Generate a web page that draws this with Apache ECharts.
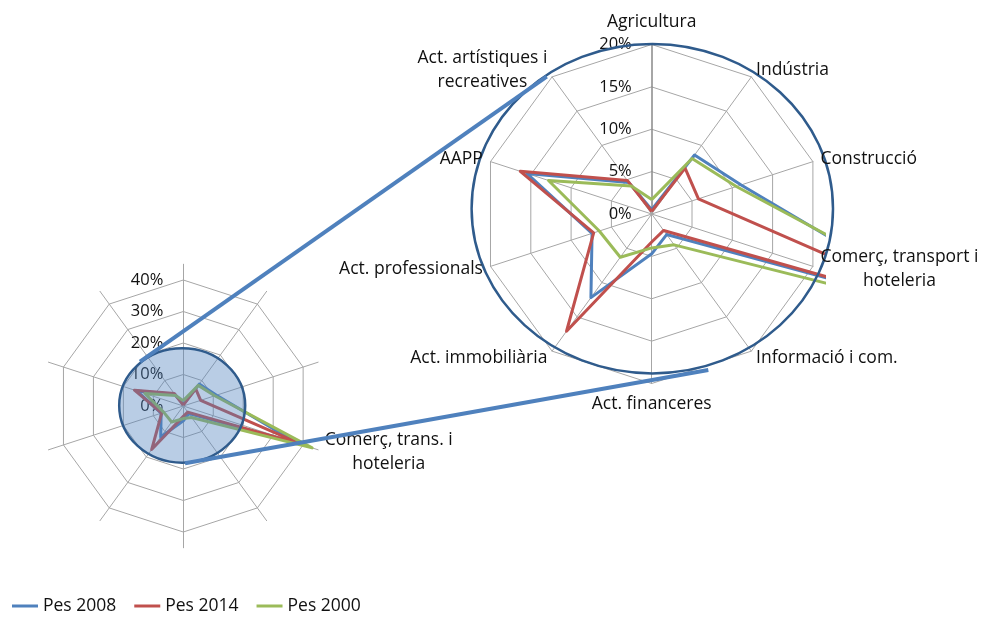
<!DOCTYPE html>
<html>
<head>
<meta charset="utf-8">
<script src="https://cdn.jsdelivr.net/npm/echarts@6/dist/echarts.min.js"></script>
<style>
  html, body { margin: 0; padding: 0; background: #fff; }
  #chart { width: 985px; height: 617px; }
</style>
</head>
<body>
<div id="chart"></div>
<script>
// sectors, clockwise from the top
const sectors = [
  'Agricultura', 'Indústria', 'Construcció', 'Comerç, transport i hoteleria',
  'Informació i com.', 'Act. financeres', 'Act. immobiliària',
  'Act. professionals', 'AAPP', 'Act. artístiques i recreatives'
];
// label used on the small overview chart
const smallLabel = 'Comerç, trans. i hoteleria';

// shares in %
const pes2008 = [0.5, 8.6, 11.1, 38, 3.0, 4.7, 12.2, 7.4, 15.5, 4.6];
const pes2014 = [0.3, 6.7, 5.8, 39.5, 2.4, 3.3, 17.1, 7.2, 16.3, 4.9];
const pes2000 = [1.7, 8.1, 10.5, 43, 4.5, 4.0, 6.3, 6.5, 12.8, 4.1];

const seriesNames = ['Pes 2008', 'Pes 2014', 'Pes 2000'];
const seriesColors = ['#4F81BD', '#C0504D', '#9BBB59'];

// echarts lays indicators out counter-clockwise, the original runs clockwise
const order = [0, 9, 8, 7, 6, 5, 4, 3, 2, 1];
const cw = arr => order.map(i => arr[i]);

const FONT = 'Open Sans';
const FS = 17.5;
const GRID = '#a6a6a6';

// two-line labels with centred lines
function twoLines(s) {
  if (s === 'Comerç, transport i hoteleria') return '{c|Comerç, transport i}\n{c|hoteleria}';
  if (s === 'Act. artístiques i recreatives') return '{c|Act. artístiques i}\n{c|recreatives}';
  if (s === 'Comerç, trans. i hoteleria') return '{c|Comerç, trans. i}\n{c|hoteleria}';
  if (s === 'Agricultura') return '{top|Agricultura}';
  if (s === 'Act. financeres') return '{bot|Act. financeres}';
  return '{n|' + s + '}';
}
const nameRich = {
  c: { align: 'center', fontSize: FS, lineHeight: 24, fontFamily: FONT, color: '#111' },
  n: { fontSize: FS, fontFamily: FONT, color: '#111' },
  top: { fontSize: FS, fontFamily: FONT, color: '#111', padding: [0, 0, 5, 0] },
  bot: { fontSize: FS, fontFamily: FONT, color: '#111', padding: [4, 0, 0, 0] }
};

function pctLabel() {
  return { show: true, color: '#111', fontSize: 16.5, fontFamily: FONT, margin: 20,
    formatter: '{value}%', showMinLabel: true, showMaxLabel: true };
}

function makeData() {
  return [pes2008, pes2014, pes2000].map((v, i) => ({
    name: seriesNames[i],
    value: cw(v),
    symbol: 'none',
    lineStyle: { color: seriesColors[i], width: 3 },
    itemStyle: { color: seriesColors[i] }
  }));
}

const names = cw(sectors);

const chart = echarts.init(document.getElementById('chart'));

chart.setOption({
  animation: false,
  textStyle: { fontFamily: FONT },
  legend: {
    data: seriesNames,
    left: 12,
    top: 597,
    padding: 0,
    icon: 'rect',
    itemWidth: 26,
    itemHeight: 3,
    itemGap: 18,
    textStyle: { fontSize: FS, color: '#111', fontFamily: FONT }
  },
  radar: [
    // 0: small chart spokes + its one name
    {
      center: [183.3, 406],
      radius: 141.75,
      startAngle: 90,
      shape: 'polygon',
      nameGap: 7,
      z: 1,
      indicator: names.map(s => ({ name: s, min: 0, max: 45 })),
      axisName: {
        formatter: (n) => (n === sectors[3] ? twoLines(smallLabel) : ''),
        rich: nameRich
      },
      axisLine: { lineStyle: { color: GRID, width: 1 } },
      splitLine: { show: false },
      splitArea: { show: false }
    },
    // 1: small chart web
    {
      center: [183.3, 406],
      radius: 126,
      startAngle: 90,
      shape: 'polygon',
      splitNumber: 4,
      z: 1,
      indicator: names.map((s, i) => {
        const o = { name: s, min: 0, max: 40 };
        if (i === 0) o.axisLabel = pctLabel();
        return o;
      }),
      axisName: { show: false },
      axisLine: { show: false },
      splitLine: { lineStyle: { color: GRID, width: 1 } },
      splitArea: { show: false }
    },
    // 2: big chart web
    {
      center: [651.7, 214],
      radius: 169.5,
      startAngle: 90,
      shape: 'polygon',
      splitNumber: 4,
      z: 1,
      indicator: names.map((s, i) => {
        const o = { name: s, min: 0, max: 20 };
        if (i === 0) {
          o.axisLabel = pctLabel();
          o.axisLine = { show: true, lineStyle: { color: '#888', width: 1.5 } };
        }
        return o;
      }),
      axisName: { show: false },
      axisLine: { lineStyle: { color: GRID, width: 1 } },
      splitLine: { lineStyle: { color: GRID, width: 1 } },
      splitArea: { show: false }
    },
    // 3: big chart names, above the clipping mask
    {
      center: [651.7, 214],
      radius: 169.5,
      startAngle: 90,
      shape: 'polygon',
      nameGap: 8,
      z: 6,
      indicator: names.map(s => ({ name: s, min: 0, max: 20 })),
      axisName: { formatter: (n) => twoLines(n), rich: nameRich },
      axisLine: { show: false },
      splitLine: { show: false },
      splitArea: { show: false }
    }
  ],
  series: [
    { type: 'radar', radarIndex: 1, z: 2, silent: true, data: makeData() },
    { type: 'radar', radarIndex: 2, z: 2, silent: true, data: makeData() }
  ],
  graphic: [
    // plot-area clip of the zoomed chart
    { type: 'rect', z: 3, silent: true,
      shape: { x: 826, y: 170, width: 159, height: 170 },
      style: { fill: '#fff' } },
    // zoom circle on the big chart
    { type: 'ellipse', z: 4, silent: true,
      shape: { cx: 652.3, cy: 208.7, rx: 180.7, ry: 164.7 },
      style: { fill: 'none', stroke: '#2F5B8C', lineWidth: 2.5 } },
    // highlighted area on the small chart
    { type: 'ellipse', z: 4, silent: true,
      shape: { cx: 182.2, cy: 405.5, rx: 63, ry: 57.2 },
      style: { fill: 'rgba(79,129,189,0.4)', stroke: '#2F5B8C', lineWidth: 2.5 } },
    // connector lines
    { type: 'line', z: 5, silent: true,
      shape: { x1: 140, y1: 361.7, x2: 546.7, y2: 76.7 },
      style: { stroke: '#4F81BD', lineWidth: 4 } },
    { type: 'line', z: 5, silent: true,
      shape: { x1: 185, y1: 463.3, x2: 708.3, y2: 370 },
      style: { stroke: '#4F81BD', lineWidth: 4 } }
  ]
});
</script>
</body>
</html>
